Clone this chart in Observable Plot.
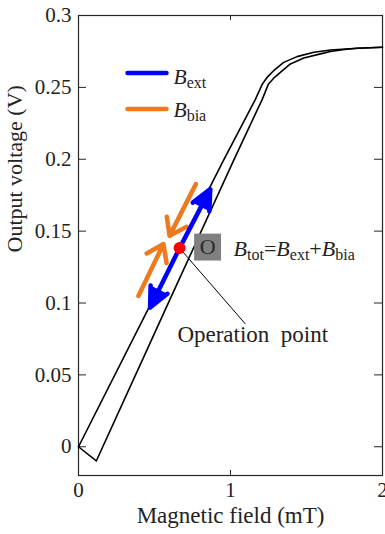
<!DOCTYPE html>
<html>
<head>
<meta charset="utf-8">
<script src="https://cdn.jsdelivr.net/npm/d3@7"></script>
<script src="https://cdn.jsdelivr.net/npm/@observablehq/plot@0.6"></script>
<style>
  html, body { margin: 0; padding: 0; background: #fff; }
  #chart { width: 385px; height: 534px; }
</style>
</head>
<body>
<div id="chart"></div>
<script>
// ---- data ----
const xTicks = [0, 1, 2];
const yTicks = [0, 0.05, 0.1, 0.15, 0.2, 0.25, 0.3];

// lower (right) branch of the loop
const lowerField = [0, 0.117, 0.425, 0.601, 1.02, 1.208, 1.25, 1.29, 1.328, 1.394, 1.482, 1.592, 1.658, 1.75, 1.834, 2.0];
const lowerVolt  = [0, -0.0099, 0.0615, 0.1023, 0.199, 0.2415, 0.2524, 0.2570, 0.2604, 0.2663, 0.2705, 0.2733, 0.2749, 0.2763, 0.2772, 0.2779];
// upper (left) branch of the loop
const upperField = [0, 0.469, 0.953, 1.163, 1.21, 1.245, 1.284, 1.35, 1.438, 1.548, 1.658, 1.834, 2.0];
const upperVolt  = [0, 0.098, 0.199, 0.2415, 0.2524, 0.2575, 0.2616, 0.2674, 0.2714, 0.2744, 0.276, 0.2772, 0.2779];

// operation point
const opField = [0.665];
const opVolt = [0.1382];
// B_ext double arrow tips
const extTipField = [0.867, 0.471];
const extTipVolt = [0.1792, 0.0968];
// B_bia arrows
const biaStartField = [0.772, 0.394];
const biaStartVolt = [0.1827, 0.1049];
const biaEndField = [0.599, 0.559];
const biaEndVolt = [0.1467, 0.141];
// leader line end for "Operation point"
const leaderField = [1.098];
const leaderVolt = [0.0854];

const legendLabels = ["B_{ext}", "B_{bia}"];
const legendColors = ["#0000ff", "#ee7a1c"];

// ---- tables built from the arrays ----
const lower = lowerField.map((f, i) => ({field: f, volt: lowerVolt[i]}));
const upper = upperField.map((f, i) => ({field: f, volt: upperVolt[i]}));
const op = opField.map((f, i) => ({field: f, volt: opVolt[i]}));
const ext = extTipField.map((f, i) => ({x1: opField[0], y1: opVolt[0], x2: f, y2: extTipVolt[i]}));
const bia = biaStartField.map((f, i) => ({x1: f, y1: biaStartVolt[i], x2: biaEndField[i], y2: biaEndVolt[i]}));
const leader = leaderField.map((f, i) => ({x1: opField[0], y1: opVolt[0], x2: f, y2: leaderVolt[i]}));

const W = 385, H = 534;
const mL = 78, mR = 3, mT = 15, mB = 59;
const plotW = W - mL - mR, plotH = H - mT - mB;
const axisColor = "#262626";
const font = "Liberation Serif, Times New Roman, serif";

const lineShape = { draw(context, l) { context.moveTo(0, 0); context.lineTo(0, -l); } };

const legendMarks = legendLabels.flatMap((lab, i) => [
  Plot.vector([lab], {frameAnchor: "top-left", dx: 49, dy: 57.5 + i * 36, length: 39, rotate: 90, anchor: "start",
    shape: lineShape, stroke: legendColors[i], strokeWidth: 4.5, strokeLinecap: "round"}),
  Plot.text([lab], {frameAnchor: "top-left", dx: 95, dy: 68.5 + i * 33, text: d => d, textAnchor: "start",
    lineAnchor: "bottom", fontSize: 21.5, fontFamily: font, fill: "#222"})
]);

const plot = Plot.plot({
  width: W, height: H,
  marginLeft: mL, marginRight: mR, marginTop: mT, marginBottom: mB,
  x: {domain: [0, 2]},
  y: {domain: [-0.02, 0.3]},
  style: {fontFamily: font, fontSize: "21px", color: "#222", background: "#fff"},
  marks: [
    Plot.frame({stroke: axisColor, strokeWidth: 1.2}),
    Plot.tickY(yTicks, {y: d => d, insetRight: plotW - 8, stroke: axisColor}),
    Plot.tickY(yTicks, {y: d => d, insetLeft: plotW - 8, stroke: axisColor}),
    Plot.tickX(xTicks, {x: d => d, insetTop: plotH - 5, stroke: axisColor}),
    Plot.tickX(xTicks, {x: d => d, insetBottom: plotH - 5, stroke: axisColor}),
    Plot.axisX(xTicks, {tickSize: 0, tickPadding: 7, label: null, fontSize: 21, fontFamily: font, fontVariant: "normal", tickFormat: d => String(d)}),
    Plot.axisY(yTicks, {tickSize: 0, tickPadding: 7, label: null, fontSize: 21, fontFamily: font, fontVariant: "normal", tickFormat: d => String(d)}),
    Plot.text(["Magnetic field (mT)"], {frameAnchor: "bottom", dy: 47, lineAnchor: "bottom", fontSize: 23, fontFamily: font, text: d => d, fill: "#222"}),
    Plot.text(["Output voltage (V)"], {frameAnchor: "left", dx: -57, dy: 7, rotate: -90, lineAnchor: "bottom", fontSize: 22, fontFamily: font, text: d => d, fill: "#222"}),
    Plot.line(lower, {x: "field", y: "volt", stroke: "#000", strokeWidth: 1.6}),
    Plot.line(upper, {x: "field", y: "volt", stroke: "#000", strokeWidth: 1.6}),
    Plot.arrow(bia, {x1: "x1", y1: "y1", x2: "x2", y2: "y2", stroke: "#ee7a1c", strokeWidth: 4.5,
      headLength: 14, headAngle: 70, strokeLinecap: "round", strokeLinejoin: "miter"}),
    Plot.arrow(ext, {x1: "x1", y1: "y1", x2: "x2", y2: "y2", stroke: "#0000ff", fill: "#0000ff", strokeWidth: 4.5,
      headLength: 14, headAngle: 50, strokeLinejoin: "miter"}),
    Plot.link(leader, {x1: "x1", y1: "y1", x2: "x2", y2: "y2", stroke: "#000", strokeWidth: 1}),
    Plot.dot(op, {x: "field", y: "volt", r: 6, fill: "#ff0000", stroke: "none"}),
    Plot.dot(op, {x: "field", y: "volt", dx: 28, dy: -1, symbol: "square", r: 15.2, fill: "#808080", stroke: "none"}),
    Plot.text(op, {x: "field", y: "volt", dx: 28, dy: -1, text: () => "O", fontSize: 22, fontFamily: font, fill: "#2b2b2b", lineAnchor: "middle"}),
    Plot.text(op, {x: "field", y: "volt", dx: 54, dy: 7.5, text: () => "B_{tot}=B_{ext}+B_{bia}", textAnchor: "start", lineAnchor: "bottom", fontSize: 22, fontFamily: font, fill: "#222"}),
    Plot.text(leader, {x: "x2", y: "y2", dx: -68, dy: 18.5, text: () => "Operation\u00a0 point", textAnchor: "start", lineAnchor: "bottom", fontSize: 23, fontFamily: font, fill: "#222"}),
    ...legendMarks
  ]
});

// turn X_{sub} notation into italic letter + subscript
function richify(el, s) {
  el.textContent = "";
  const ns = "http://www.w3.org/2000/svg";
  let pending = 0;
  const parts = s.split(/([A-Za-z]_\{[^}]*\})/).filter(p => p.length);
  for (const p of parts) {
    const m = p.match(/^([A-Za-z])_\{(.*)\}$/);
    if (m) {
      const a = document.createElementNS(ns, "tspan");
      a.textContent = m[1];
      a.setAttribute("font-style", "italic");
      if (pending) a.setAttribute("dy", pending);
      el.appendChild(a);
      const b = document.createElementNS(ns, "tspan");
      b.textContent = m[2];
      b.setAttribute("font-size", "16");
      b.setAttribute("dy", 4);
      el.appendChild(b);
      pending = -4;
    } else {
      const a = document.createElementNS(ns, "tspan");
      a.textContent = p;
      if (pending) a.setAttribute("dy", pending);
      el.appendChild(a);
      pending = 0;
    }
  }
}
d3.select(plot).selectAll("text").each(function () {
  const t = this.textContent;
  if (t.includes("_{")) richify(this, t);
});

document.getElementById("chart").appendChild(plot);
</script>
</body>
</html>
